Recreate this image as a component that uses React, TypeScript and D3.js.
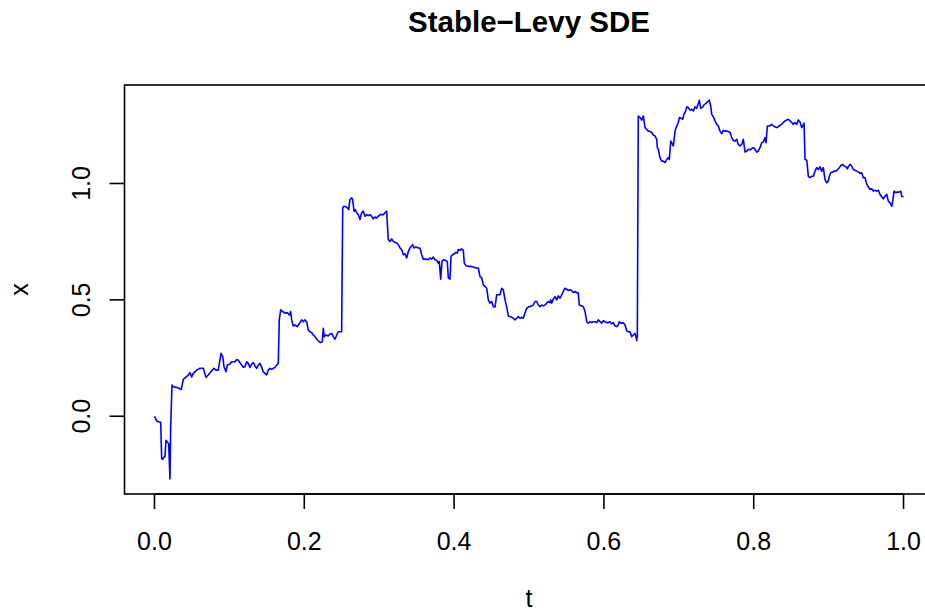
import React from "react";
import * as d3 from "d3";

// Simulated path of a stable-Levy driven SDE, stored piecewise between the big jumps.
// Each entry is [t, x].
const pathStart: [number, number][] = [
  [0.0, 0.0], [0.0029, -0.02], [0.0064, -0.025], [0.0083, -0.026], [0.0096, -0.182], [0.0109, -0.185],
  [0.0127, -0.175], [0.014, -0.175], [0.0154, -0.103], [0.0171, -0.111], [0.019, -0.118], [0.0207, -0.269],
  [0.0216, -0.052], [0.0234, 0.134], [0.0251, 0.126], [0.0296, 0.124], [0.0331, 0.119], [0.0358, 0.115],
  [0.0385, 0.158], [0.0451, 0.177], [0.0474, 0.187], [0.0497, 0.169], [0.0518, 0.184], [0.0563, 0.198],
  [0.0607, 0.206], [0.0652, 0.206], [0.0688, 0.167], [0.0718, 0.177], [0.0764, 0.195], [0.0794, 0.206],
  [0.0821, 0.198], [0.0852, 0.198], [0.0888, 0.27], [0.0911, 0.256], [0.0928, 0.213], [0.0955, 0.191],
  [0.0972, 0.22], [0.1008, 0.224], [0.1031, 0.234], [0.1075, 0.234], [0.1097, 0.244], [0.1119, 0.241],
  [0.1142, 0.23], [0.1164, 0.22], [0.1186, 0.21], [0.1208, 0.213], [0.1231, 0.234], [0.1252, 0.227],
  [0.1275, 0.21], [0.1298, 0.224], [0.1319, 0.23], [0.1342, 0.216], [0.1364, 0.206], [0.1386, 0.22],
  [0.1409, 0.227], [0.1431, 0.21], [0.1453, 0.191], [0.1475, 0.184], [0.1498, 0.177], [0.1519, 0.198],
  [0.1542, 0.206], [0.1565, 0.201], [0.1586, 0.206], [0.1609, 0.21], [0.1632, 0.22], [0.1653, 0.227],
];

const pathSecond: [number, number][] = [
  [0.1666, 0.414], [0.1685, 0.457], [0.1712, 0.45], [0.1742, 0.443], [0.1773, 0.445], [0.18, 0.435],
  [0.1818, 0.45], [0.1832, 0.414], [0.1853, 0.388], [0.1876, 0.392], [0.1907, 0.385], [0.1933, 0.397],
  [0.1965, 0.414], [0.1987, 0.406], [0.2009, 0.414], [0.2032, 0.406], [0.2053, 0.371], [0.2076, 0.363],
  [0.2099, 0.359], [0.212, 0.349], [0.2143, 0.342], [0.2166, 0.331], [0.22, 0.32], [0.2219, 0.316],
  [0.224, 0.32], [0.2254, 0.378], [0.2267, 0.342], [0.229, 0.349], [0.232, 0.345], [0.2343, 0.353],
  [0.2366, 0.356], [0.2387, 0.342], [0.241, 0.331], [0.2433, 0.349], [0.2454, 0.363], [0.2477, 0.363],
  [0.2499, 0.363],
];

const pathMiddle: [number, number][] = [
  [0.2513, 0.895], [0.253, 0.902], [0.2557, 0.9], [0.2574, 0.895], [0.2593, 0.888], [0.261, 0.931],
  [0.2633, 0.938], [0.2646, 0.931], [0.2664, 0.881], [0.2681, 0.888], [0.27, 0.874], [0.2721, 0.866],
  [0.2744, 0.845], [0.2766, 0.874], [0.2788, 0.881], [0.281, 0.859], [0.2833, 0.866], [0.2854, 0.862],
  [0.2877, 0.866], [0.29, 0.859], [0.2921, 0.848], [0.2944, 0.856], [0.2967, 0.852], [0.2988, 0.859],
  [0.3011, 0.866], [0.3055, 0.866], [0.3077, 0.874], [0.31, 0.881], [0.3108, 0.832], [0.3121, 0.759],
  [0.3144, 0.751], [0.3167, 0.762], [0.3188, 0.751], [0.3211, 0.747], [0.3234, 0.744], [0.3255, 0.737],
  [0.3278, 0.723], [0.33, 0.716], [0.3322, 0.694], [0.3344, 0.698], [0.3367, 0.68], [0.3389, 0.708],
  [0.3411, 0.723], [0.3447, 0.737], [0.3465, 0.723], [0.3491, 0.727], [0.3522, 0.723], [0.3545, 0.723],
  [0.3567, 0.694], [0.3589, 0.675], [0.3625, 0.675], [0.3656, 0.672], [0.3678, 0.68], [0.3701, 0.675],
  [0.3722, 0.684], [0.3745, 0.672], [0.3768, 0.669], [0.3789, 0.658], [0.3802, 0.665], [0.3821, 0.589],
  [0.3838, 0.665], [0.3856, 0.672], [0.3892, 0.669], [0.3909, 0.665], [0.3923, 0.594], [0.3945, 0.589],
  [0.3959, 0.687], [0.3981, 0.694], [0.4003, 0.698], [0.4025, 0.704], [0.4043, 0.701], [0.4056, 0.716],
  [0.4079, 0.713], [0.4101, 0.719], [0.4123, 0.713], [0.4136, 0.658], [0.4159, 0.647], [0.419, 0.644],
  [0.4222, 0.644], [0.4256, 0.641], [0.4292, 0.637], [0.4323, 0.637], [0.4346, 0.6], [0.4369, 0.594],
  [0.439, 0.565], [0.4413, 0.557], [0.4435, 0.55], [0.4457, 0.5], [0.4479, 0.486], [0.4502, 0.493],
  [0.4523, 0.471], [0.4546, 0.469], [0.4569, 0.522], [0.459, 0.522], [0.4613, 0.522], [0.4636, 0.55],
  [0.4657, 0.543], [0.468, 0.5], [0.4702, 0.471], [0.4724, 0.431], [0.4746, 0.428], [0.4769, 0.425],
  [0.479, 0.421], [0.4813, 0.414], [0.4836, 0.421], [0.4857, 0.428], [0.488, 0.421], [0.4903, 0.425],
  [0.4924, 0.421], [0.4947, 0.445], [0.4969, 0.464], [0.4991, 0.469], [0.5013, 0.471], [0.5036, 0.474],
  [0.5057, 0.478], [0.508, 0.493], [0.5103, 0.493], [0.5124, 0.478], [0.5147, 0.471], [0.517, 0.478],
  [0.5191, 0.474], [0.5214, 0.478], [0.5236, 0.486], [0.5258, 0.493], [0.528, 0.488], [0.529, 0.5],
  [0.5303, 0.486], [0.5324, 0.503], [0.5347, 0.514], [0.537, 0.5], [0.5391, 0.517], [0.5414, 0.507],
  [0.5437, 0.522], [0.5458, 0.536], [0.5481, 0.55], [0.5503, 0.546], [0.5525, 0.54], [0.5547, 0.543],
  [0.557, 0.54], [0.5591, 0.531], [0.5614, 0.536], [0.5637, 0.531], [0.5658, 0.529], [0.5671, 0.478],
  [0.5704, 0.474], [0.5725, 0.471], [0.5748, 0.45], [0.577, 0.406], [0.5792, 0.4], [0.5814, 0.406],
  [0.5837, 0.402], [0.5858, 0.406], [0.5881, 0.406], [0.5904, 0.402], [0.5925, 0.414], [0.5948, 0.406],
  [0.5971, 0.4], [0.5992, 0.411], [0.6015, 0.406], [0.6037, 0.402], [0.6059, 0.402], [0.6081, 0.406],
  [0.6104, 0.397], [0.6126, 0.402], [0.6148, 0.388], [0.6171, 0.385], [0.6192, 0.392], [0.6206, 0.406],
  [0.6228, 0.4], [0.6259, 0.402], [0.6282, 0.392], [0.6304, 0.368], [0.6326, 0.363], [0.6348, 0.363],
  [0.6371, 0.342], [0.6393, 0.349], [0.6415, 0.356], [0.6429, 0.342], [0.6438, 0.325], [0.6446, 0.349],
];

const pathHigh: [number, number][] = [
  [0.6459, 1.29], [0.6482, 1.283], [0.6505, 1.272], [0.6526, 1.29], [0.6549, 1.24], [0.6571, 1.233],
  [0.6593, 1.225], [0.6616, 1.223], [0.6638, 1.219], [0.666, 1.208], [0.6682, 1.204], [0.6705, 1.19],
  [0.6713, 1.154], [0.6726, 1.147], [0.6749, 1.111], [0.6772, 1.096], [0.6793, 1.096], [0.6816, 1.089],
  [0.6838, 1.103], [0.686, 1.111], [0.6873, 1.103], [0.6892, 1.182], [0.6905, 1.175], [0.6927, 1.161],
  [0.694, 1.197], [0.6949, 1.225], [0.6972, 1.247], [0.6993, 1.262], [0.7007, 1.283], [0.7029, 1.28],
  [0.7052, 1.276], [0.7069, 1.297], [0.7092, 1.312], [0.7106, 1.329], [0.7127, 1.326], [0.715, 1.315],
  [0.7172, 1.319], [0.7194, 1.312], [0.7216, 1.329], [0.7239, 1.323], [0.726, 1.344], [0.7274, 1.358],
  [0.7292, 1.323], [0.7319, 1.329], [0.7336, 1.338], [0.7363, 1.344], [0.7386, 1.352], [0.7407, 1.358],
  [0.7426, 1.333], [0.7439, 1.297], [0.7461, 1.286], [0.7483, 1.269], [0.7506, 1.254], [0.7527, 1.247],
  [0.755, 1.225], [0.7573, 1.214], [0.7594, 1.228], [0.7617, 1.225], [0.764, 1.225], [0.7661, 1.223],
  [0.7684, 1.219], [0.7706, 1.197], [0.7728, 1.185], [0.775, 1.182], [0.7773, 1.19], [0.7794, 1.168],
  [0.7817, 1.161], [0.784, 1.168], [0.7861, 1.19], [0.7884, 1.135], [0.7907, 1.139], [0.7928, 1.147],
  [0.7951, 1.144], [0.7973, 1.15], [0.7995, 1.154], [0.8017, 1.147], [0.804, 1.135], [0.8061, 1.139],
  [0.8084, 1.154], [0.8107, 1.175], [0.8128, 1.178], [0.8151, 1.197], [0.8164, 1.175], [0.8182, 1.247],
  [0.8208, 1.247], [0.824, 1.254], [0.8262, 1.247], [0.8284, 1.244], [0.8307, 1.24], [0.8329, 1.244],
  [0.8351, 1.25], [0.8374, 1.254], [0.8395, 1.262], [0.8418, 1.269], [0.8441, 1.273], [0.8462, 1.276],
  [0.8485, 1.269], [0.8507, 1.262], [0.8529, 1.254], [0.8551, 1.262], [0.8574, 1.254], [0.8595, 1.273],
  [0.8618, 1.264], [0.8641, 1.24], [0.8654, 1.247], [0.8672, 1.259],
];

const pathEnd: [number, number][] = [
  [0.8685, 1.103], [0.8708, 1.1], [0.8729, 1.031], [0.8752, 1.025], [0.8774, 1.031], [0.8796, 1.031],
  [0.8818, 1.053], [0.8841, 1.068], [0.8863, 1.06], [0.8885, 1.072], [0.8908, 1.053], [0.8929, 1.068],
  [0.8952, 1.017], [0.8975, 1.003], [0.8996, 1.01], [0.9009, 1.031], [0.9028, 1.046], [0.9055, 1.049],
  [0.9076, 1.053], [0.9099, 1.053], [0.9122, 1.06], [0.9143, 1.068], [0.9166, 1.078], [0.9188, 1.082],
  [0.9206, 1.075], [0.9232, 1.072], [0.925, 1.063], [0.9263, 1.072], [0.9286, 1.082], [0.9308, 1.075],
  [0.933, 1.06], [0.9352, 1.057], [0.9375, 1.053], [0.9397, 1.049], [0.9419, 1.043], [0.9442, 1.046],
  [0.9463, 1.025], [0.9486, 1.025], [0.9509, 0.996], [0.953, 0.986], [0.9553, 0.974], [0.9575, 0.977],
  [0.9597, 0.967], [0.962, 0.971], [0.9642, 0.967], [0.9664, 0.971], [0.9686, 0.953], [0.9709, 0.943],
  [0.973, 0.934], [0.9753, 0.945], [0.9776, 0.953], [0.9797, 0.924], [0.982, 0.917], [0.9843, 0.902],
  [0.9856, 0.924], [0.9873, 0.967], [0.9896, 0.96], [0.9917, 0.963], [0.994, 0.963], [0.9963, 0.967],
  [0.9976, 0.945], [1.0, 0.943],
];

const xTicks = [0, 0.2, 0.4, 0.6, 0.8, 1.0];
const yTicks = [0, 0.5, 1.0];

const title = "Stable\u2212Levy SDE";
const xLabel = "t";
const yLabel = "x";

const W = 925;
const H = 612;
const FONT = "'Liberation Sans', Arial, Helvetica, sans-serif";

export default function App() {
  const series = [...pathStart, ...pathSecond, ...pathMiddle, ...pathHigh, ...pathEnd];

  // R-style axes: 4% padding on each side of the data range
  const tExtent = d3.extent(series, (d) => d[0]) as [number, number];
  const xExtent = d3.extent(series, (d) => d[1]) as [number, number];
  const padT = (tExtent[1] - tExtent[0]) * 0.04;
  const padX = (xExtent[1] - xExtent[0]) * 0.04;

  const left = 124.5;
  const right = 933.5;
  const top = 85;
  const bottom = 494;

  const sx = d3.scaleLinear().domain([tExtent[0] - padT, tExtent[1] + padT]).range([left, right]);
  const sy = d3.scaleLinear().domain([xExtent[0] - padX, xExtent[1] + padX]).range([bottom, top]);

  const line = d3
    .line<[number, number]>()
    .x((d) => sx(d[0]))
    .y((d) => sy(d[1]));

  const tickLen = 15;
  const cx = (left + right) / 2;
  const cy = (top + bottom) / 2;

  return (
    <svg
      width={W}
      height={H}
      viewBox={`0 0 ${W} ${H}`}
      style={{ position: "absolute", left: 0, top: 0, background: "#fff" }}
      fontFamily={FONT}
    >
      <rect x={0} y={0} width={W} height={H} fill="#fff" />
      <text x={cx} y={31.5} textAnchor="middle" fontSize={29.5} fontWeight="bold" fill="#000">
        {title}
      </text>

      <path d={line(series) ?? ""} fill="none" stroke="#0000ff" strokeWidth={1.6} strokeLinejoin="round" />

      <rect x={left} y={top} width={right - left} height={bottom - top} fill="none" stroke="#000" strokeWidth={1.6} />

      {xTicks.map((v) => (
        <g key={`xt${v}`}>
          <line x1={sx(v)} x2={sx(v)} y1={bottom} y2={bottom + tickLen} stroke="#000" strokeWidth={1.6} />
          <text x={sx(v)} y={549.5} textAnchor="middle" fontSize={25} fill="#000">
            {d3.format(".1f")(v)}
          </text>
        </g>
      ))}
      <line x1={sx(xTicks[0])} x2={Math.min(sx(xTicks[xTicks.length - 1]), W)} y1={bottom} y2={bottom} stroke="#000" strokeWidth={1.6} />

      {yTicks.map((v) => (
        <g key={`yt${v}`}>
          <line x1={left - tickLen} x2={left} y1={sy(v)} y2={sy(v)} stroke="#000" strokeWidth={1.6} />
          <text
            transform={`translate(89.5,${sy(v)}) rotate(-90)`}
            textAnchor="middle"
            fontSize={25}
            fill="#000"
          >
            {d3.format(".1f")(v)}
          </text>
        </g>
      ))}

      <text x={cx} y={607} textAnchor="middle" fontSize={25} fill="#000">
        {xLabel}
      </text>
      <text transform={`translate(28,${cy}) rotate(-90)`} textAnchor="middle" fontSize={25} fill="#000">
        {yLabel}
      </text>
    </svg>
  );
}
